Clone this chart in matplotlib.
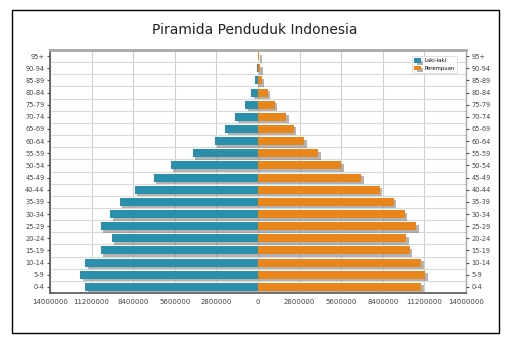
import numpy as np
import matplotlib.pyplot as plt
import matplotlib.patheffects as pe
from matplotlib.patches import Rectangle

# kelompok umur dari bawah (0-4) ke atas (95+)
age_groups = ['0-4', '5-9', '10-14', '15-19', '20-24', '25-29', '30-34', '35-39',
              '40-44', '45-49', '50-54', '55-59', '60-64', '65-69', '70-74',
              '75-79', '80-84', '85-89', '90-94', '95+']

laki_laki = [11620000, 11950000, 11620000, 10590000, 9850000, 10590000, 9940000,
             9310000, 8300000, 7020000, 5880000, 4380000, 2920000, 2200000,
             1530000, 850000, 470000, 200000, 70000, 30000]

perempuan = [11000000, 11270000, 11000000, 10210000, 9990000, 10660000, 9870000,
             9150000, 8190000, 6960000, 5610000, 4040000, 3100000, 2420000,
             1900000, 1120000, 670000, 250000, 160000, 80000]

x_ticks = [-14000000, -11200000, -8400000, -5600000, -2800000, 0,
           2800000, 5600000, 8400000, 11200000, 14000000]

blue = '#2a8fab'
orange = '#e8861c'
label_color = '#444444'

fig = plt.figure(figsize=(5.23, 3.45), dpi=100)
fig.patch.set_facecolor('white')

# bingkai luar
fig.patches.append(Rectangle((12 / 523, 12 / 345), 487 / 523, 323 / 345,
                             transform=fig.transFigure, fill=False,
                             edgecolor='black', linewidth=1.0))

fig.text(0.488, 0.912, 'Piramida Penduduk Indonesia', ha='center', va='center',
         fontsize=10, color='#222222')

ax = fig.add_axes([50 / 523, 52 / 345, 416 / 523, 243 / 345])
y = np.arange(len(age_groups))

shadow = [pe.SimplePatchShadow(offset=(1.8, -1.8), shadow_rgbFace='#777777', alpha=0.55),
          pe.Normal()]
ax.barh(y, [-v for v in laki_laki], height=0.66, color=blue, label='Laki-laki',
        path_effects=shadow, zorder=3)
ax.barh(y, perempuan, height=0.66, color=orange, label='Perempuan',
        path_effects=shadow, zorder=3)

ax.set_xlim(-14000000, 14000000)
ax.set_ylim(-0.5, len(age_groups) - 0.5)
ax.set_xticks(x_ticks)
ax.set_xticklabels([str(abs(t)) for t in x_ticks], fontsize=5, color=label_color)
ax.set_yticks(y)
ax.set_yticklabels(age_groups, fontsize=4.8, color=label_color)
ax.set_yticks(np.arange(len(age_groups) + 1) - 0.5, minor=True)
ax.tick_params(axis='y', which='major', length=2, pad=2, color='#555555')
ax.tick_params(axis='y', which='minor', length=0)
ax.tick_params(axis='x', length=0, pad=4)

ax.grid(axis='x', color='#cfcfcf', linewidth=0.8, zorder=0)
ax.grid(axis='y', which='minor', color='#dadada', linewidth=0.8, zorder=0)
ax.set_axisbelow(True)

for side in ['left', 'bottom']:
    ax.spines[side].set_color('#555555')
    ax.spines[side].set_linewidth(1.2)
ax.spines['top'].set_color('#a8a8a8')
ax.spines['top'].set_linewidth(2.0)
ax.spines['right'].set_color('#a8a8a8')
ax.spines['right'].set_linewidth(1.0)

# label umur di sisi kanan
ax2 = ax.twinx()
ax2.set_ylim(ax.get_ylim())
ax2.set_yticks(y)
ax2.set_yticklabels(age_groups, fontsize=4.8, color=label_color)
ax2.tick_params(axis='y', length=2, pad=2, color='#555555')
for s in ax2.spines.values():
    s.set_visible(False)

leg = ax.legend(loc='upper right', fontsize=3.8, frameon=True, fancybox=False,
                edgecolor='#cccccc', handlelength=1.2, handleheight=0.9,
                borderpad=0.4, labelspacing=0.4, bbox_to_anchor=(0.985, 0.985))
leg.get_frame().set_linewidth(0.5)

fig.savefig('out.png', dpi=100)
